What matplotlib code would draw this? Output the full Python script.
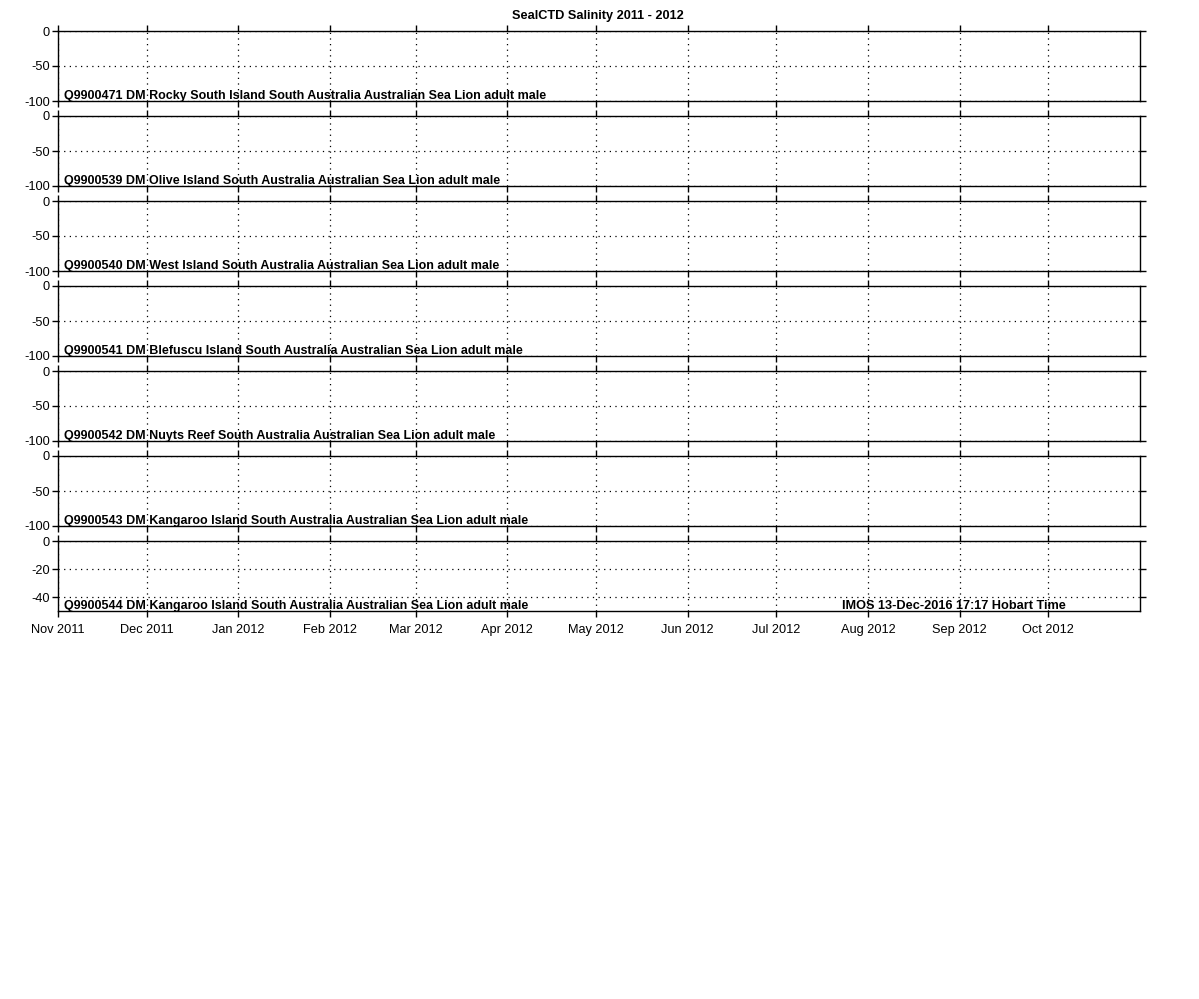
import numpy as np
import pandas as pd
import matplotlib
matplotlib.use('Agg')
from matplotlib import pyplot as plt
import matplotlib.dates as mdates

plt.rcParams['font.family'] = ['Liberation Sans', 'DejaVu Sans']
plt.rcParams['axes.unicode_minus'] = False

# panel titles (one per seal tag)
tags = ['Q9900471', 'Q9900539', 'Q9900540', 'Q9900541', 'Q9900542', 'Q9900543', 'Q9900544']
sites = ['Rocky South Island', 'Olive Island', 'West Island', 'Blefuscu Island',
         'Nuyts Reef', 'Kangaroo Island', 'Kangaroo Island']
species = 'South Australia Australian Sea Lion adult male'

# depth ranges and ticks per panel
ybottom = [-100, -100, -100, -100, -100, -100, -50]
yticks = [[0, -50, -100]] * 6 + [[0, -20, -40]]

# time axis
t_start = pd.Timestamp('2011-11-01')
t_end = pd.Timestamp('2012-11-01')
month_ticks = pd.date_range('2011-11-01', '2012-10-01', freq='MS')

title = 'SealCTD Salinity 2011 - 2012'
footer = 'IMOS 13-Dec-2016 17:17 Hobart Time'

W, H = 1199, 999
fig = plt.figure(figsize=(W / 100, H / 100), dpi=100)

left = 58
right = 1140
top0 = 31
step = 85
ph = 70
fs = 9.2

for i in range(len(tags)):
    top = top0 + step * i
    ax = fig.add_axes([left / W, 1 - (top + ph) / H, (right - left) / W, ph / H])
    ax.set_xlim(t_start, t_end)
    ax.set_ylim(ybottom[i], 0)
    ax.set_xticks(month_ticks)
    ax.set_yticks(yticks[i])
    ax.grid(True, linestyle=(0, (1, 3.5)), color='k', linewidth=0.9)
    ax.tick_params(direction='out', length=4, width=1, top=True, right=True,
                   labelsize=fs, pad=2)
    for sp in ax.spines.values():
        sp.set_linewidth(1)
    if i < len(tags) - 1:
        ax.tick_params(labelbottom=False)
    else:
        ax.xaxis.set_major_formatter(mdates.DateFormatter('%b %Y'))
        ax.tick_params(axis='x', pad=12)
        for lab in ax.get_xticklabels():
            lab.set_verticalalignment('baseline')
        ax.text(0.725, -0.01, footer, transform=ax.transAxes, fontsize=fs,
                fontweight='bold', ha='left', va='bottom')
    ax.text(0.006, -0.01, tags[i] + ' DM ' + sites[i] + ' ' + species,
            transform=ax.transAxes, fontsize=9.0, fontweight='bold',
            ha='left', va='bottom')

fig.text(598 / W, 1 - 16 / H, title, fontsize=fs, fontweight='bold',
         ha='center', va='center')

fig.savefig('out.png', dpi=100)
